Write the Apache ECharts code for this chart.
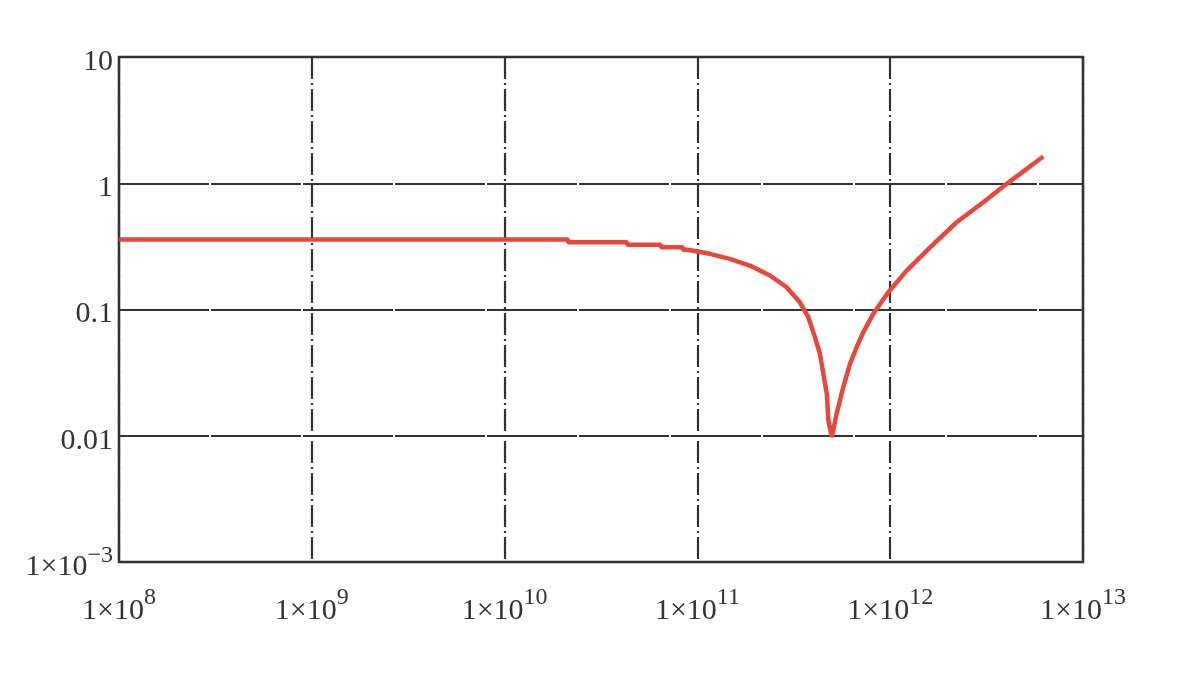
<!DOCTYPE html>
<html>
<head>
<meta charset="utf-8">
<script src="https://cdn.jsdelivr.net/npm/echarts@6/dist/echarts.min.js"></script>
<style>
html,body{margin:0;padding:0;background:#fff;}
#chart{width:1196px;height:684px;}
</style>
</head>
<body>
<div id="chart"></div>
<script>
// x: frequency, y: magnitude
var freq = [1e8, 2.13e10, 2.13e10, 4.32e10, 4.32e10, 6.47e10, 6.47e10, 8.4e10, 8.4e10, 9.17e10,
  1.16e11, 1.47e11, 1.87e11, 2.38e11, 2.90e11, 3.40e11, 3.76e11, 4.07e11, 4.32e11, 4.50e11,
  4.69e11, 4.78e11, 4.98e11,
  5.27e11, 5.71e11, 6.19e11, 6.70e11, 7.25e11, 8.17e11, 9.77e11, 1.22e12, 1.61e12,
  2.21e12, 3.04e12, 4.02e12, 6.22e12];
var values = [0.358, 0.358, 0.341, 0.341, 0.325, 0.325, 0.311, 0.311, 0.299, 0.295,
  0.276, 0.252, 0.223, 0.186, 0.150, 0.114, 0.0869, 0.0604, 0.0446, 0.0310,
  0.0215, 0.0132, 0.00975,
  0.0149, 0.0243, 0.0372, 0.0503, 0.0661, 0.0924, 0.137, 0.204, 0.311,
  0.491, 0.707, 0.989, 1.63];
var xTickExponents = ['8', '9', '10', '11', '12', '13'];
var yTickLabels = ['1×10^−3', '0.01', '0.1', '1', '10'];

var seriesData = freq.map(function (f, i) { return [f, values[i]]; });

function fmtLabel(s) {
  var p = s.split('^');
  if (p.length === 2) return '{b|' + p[0] + '}{s|' + p[1] + '}';
  return '{b|' + s + '}';
}

var richX = {
  b: { fontFamily: 'Liberation Serif', fontSize: 30, color: '#333' },
  s: { fontFamily: 'Liberation Serif', fontSize: 24, color: '#333', verticalAlign: 'top', padding: [0, 0, 26, 0] }
};
var richY = {
  b: { fontFamily: 'Liberation Serif', fontSize: 30, color: '#333' },
  s: { fontFamily: 'Liberation Serif', fontSize: 24, color: '#333', verticalAlign: 'top', padding: [0, 0, 22, 0] }
};

var chart = echarts.init(document.getElementById('chart'));
chart.setOption({
  backgroundColor: '#fff',
  animation: false,
  grid: { left: 119, right: 113, top: 57, bottom: 122, show: true, borderColor: '#333', borderWidth: 2.5, backgroundColor: 'transparent' },
  xAxis: {
    type: 'log', logBase: 10, min: 1e8, max: 1e13,
    axisLine: { show: false }, axisTick: { show: false }, minorTick: { show: false },
    splitLine: { show: true, lineStyle: { color: '#333', width: 2.2, type: [22, 4, 2, 4] } },
    axisLabel: {
      margin: 24,
      formatter: function (v) {
        var e = Math.round(Math.log10(v));
        return fmtLabel('1×10^' + xTickExponents[e - 8]);
      },
      rich: richX
    }
  },
  yAxis: {
    type: 'log', logBase: 10, min: 1e-3, max: 10,
    axisLine: { show: false }, axisTick: { show: false },
    splitLine: { show: true, lineStyle: { color: '#333', width: 2.2, type: [90, 2] } },
    axisLabel: {
      margin: 6,
      padding: [10, 0, 0, 0],
      formatter: function (v) {
        var e = Math.round(Math.log10(v));
        return fmtLabel(yTickLabels[e + 3]);
      },
      rich: richY
    }
  },
  series: [{
    type: 'line',
    data: seriesData,
    showSymbol: false,
    lineStyle: { color: '#e8473e', width: 4.5 },
    z: 5
  }]
});
</script>
</body>
</html>
